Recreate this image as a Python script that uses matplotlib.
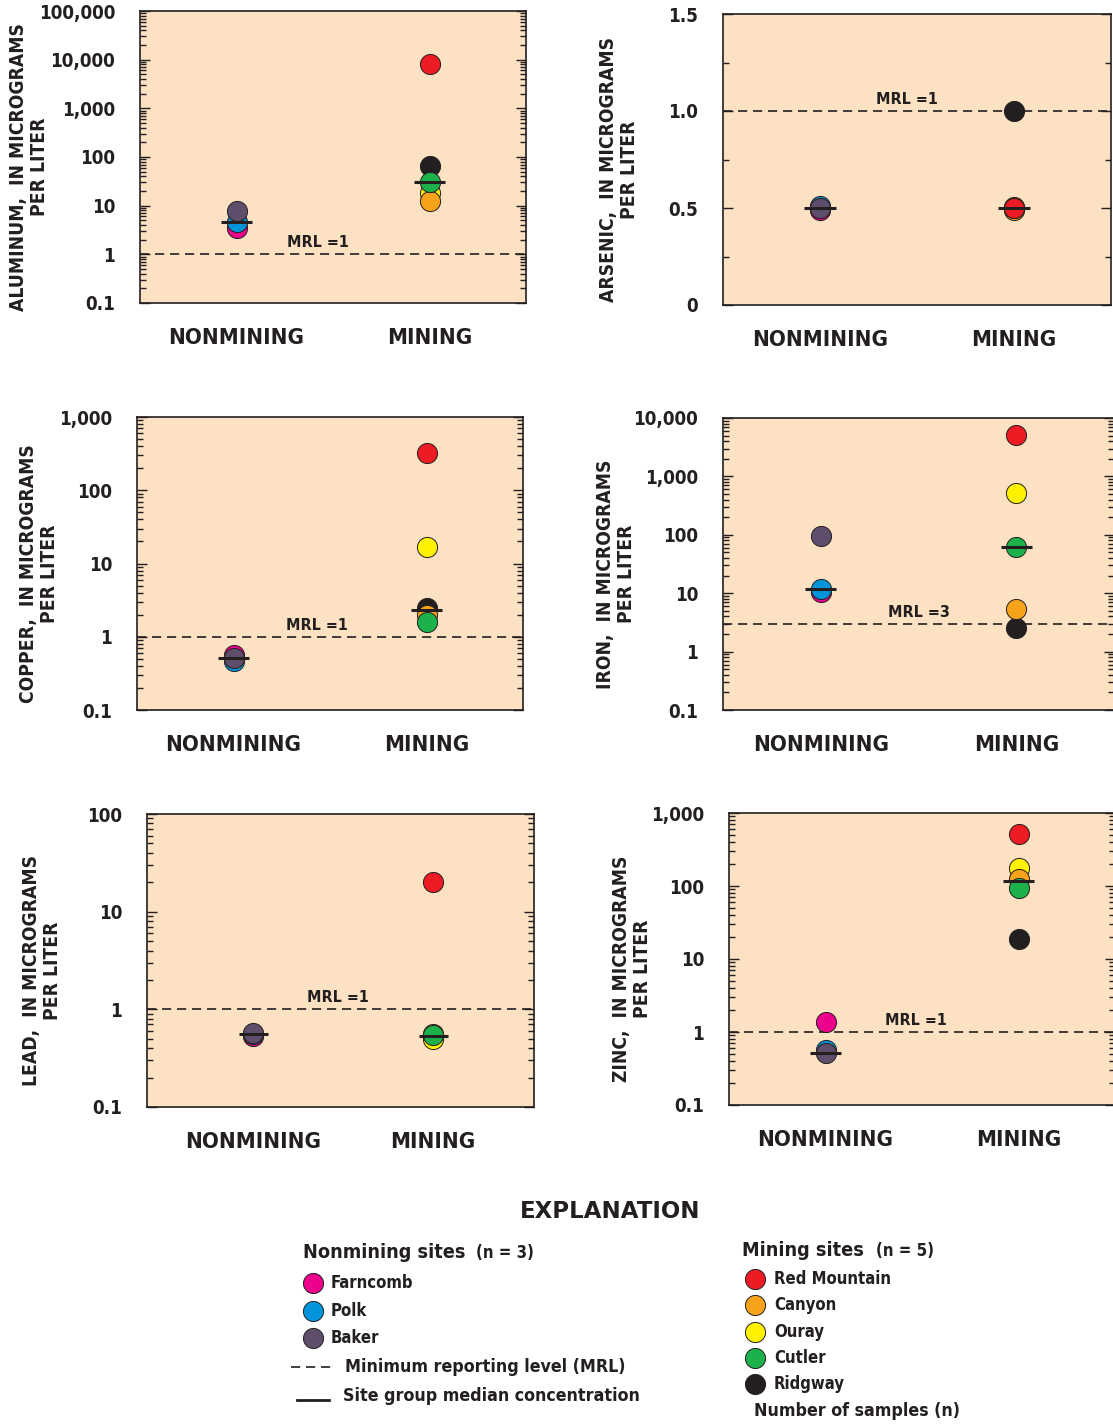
import matplotlib
matplotlib.use("Agg")
import matplotlib.pyplot as plt
from matplotlib.ticker import LogLocator, FuncFormatter, MultipleLocator, NullFormatter

plt.rcParams['font.family'] = ['DejaVu Sans']
plt.rcParams['font.stretch'] = 'condensed'
plt.rcParams['font.weight'] = 'bold'

W, H = 1113, 1426

categories = ['NONMINING', 'MINING']
nonmining_sites = ['Farncomb', 'Polk', 'Baker']
mining_sites = ['Red Mountain', 'Canyon', 'Ouray', 'Cutler', 'Ridgway']
nonmining_colors = ['#EC008C', '#0095DA', '#5F4E6B']
mining_colors = ['#ED1C24', '#F7A21B', '#FFF200', '#1DB14B', '#231F20']

# concentrations, micrograms per liter, same order as the site lists
aluminum_nonmining = [3.5, 4.6, 7.8]
aluminum_mining = [8100, 12.6, 18, 31, 65]
aluminum_median = [4.6, 31]
aluminum_mrl = 1

arsenic_nonmining = [0.49, 0.51, 0.5]
arsenic_mining = [0.5, 0.49, 0.505, 0.5, 1.0]
arsenic_median = [0.5, 0.5]
arsenic_mrl = 1

copper_nonmining = [0.57, 0.46, 0.52]
copper_mining = [323, 2.0, 16.8, 1.58, 2.5]
copper_median = [0.52, 2.3]
copper_mrl = 1

iron_nonmining = [10.5, 12, 95]
iron_mining = [5100, 5.4, 520, 62, 2.5]
iron_median = [12, 62]
iron_mrl = 3

lead_nonmining = [0.53, 0.56, 0.57]
lead_mining = [20, 0.56, 0.5, 0.55, 0.52]
lead_median = [0.56, 0.53]
lead_mrl = 1

zinc_nonmining = [1.37, 0.56, 0.52]
zinc_mining = [515, 125, 176, 94, 18.7]
zinc_median = [0.52, 117]
zinc_mrl = 1

bg = '#FCE1C2'
ink = '#231F20'
mining_order = [4, 2, 1, 3, 0]   # back to front

fig = plt.figure(figsize=(W / 100, H / 100), dpi=100)
over = fig.add_axes([0, 0, 1, 1])
over.set_xlim(0, W)
over.set_ylim(H, 0)
over.axis('off')


def log_fmt(v, pos):
    return '0.1' if v < 1 else f'{int(round(v)):,}'


def panel(box, ylabel, nonm, mine, med, mrl, ylim, log, xlim, mrl_x, lab_x):
    l, r, t, b = box
    ax = fig.add_axes([l / W, 1 - b / H, (r - l) / W, (b - t) / H])
    ax.set_facecolor(bg)
    for k in range(3):
        ax.scatter(1, nonm[k], s=210, color=nonmining_colors[k], edgecolor=ink,
                   linewidth=0.7, zorder=3 + k, clip_on=False)
    for j, k in enumerate(mining_order):
        ax.scatter(2, mine[k], s=210, color=mining_colors[k], edgecolor=ink,
                   linewidth=0.7, zorder=3 + j, clip_on=False)
    ax.hlines(med, [0.92, 1.92], [1.08, 2.08], color=ink, lw=2.2, zorder=10)
    ax.axhline(mrl, color=ink, lw=1.2, ls=(0, (5.5, 3.5)), zorder=2)
    ax.annotate(f'MRL ={mrl}', (mrl_x, mrl), xytext=(0, 3), textcoords='offset points',
                ha='center', va='bottom', fontsize=11.5, color=ink)
    if log:
        ax.set_yscale('log')
        ax.yaxis.set_major_locator(LogLocator(base=10, numticks=12))
        ax.yaxis.set_minor_locator(LogLocator(base=10, subs=range(2, 10), numticks=12))
        ax.yaxis.set_major_formatter(FuncFormatter(log_fmt))
        ax.yaxis.set_minor_formatter(NullFormatter())
    else:
        ax.yaxis.set_major_locator(MultipleLocator(0.5))
        ax.yaxis.set_minor_locator(MultipleLocator(0.25))
        ax.yaxis.set_major_formatter(FuncFormatter(lambda v, p: '0' if v == 0 else f'{v:.1f}'))
    ax.set_ylim(*ylim)
    ax.set_xlim(*xlim)
    ax.set_xticks([1, 2])
    ax.set_xticklabels(categories)
    ax.tick_params(axis='x', length=0, pad=18, labelsize=16, colors=ink)
    ax.tick_params(axis='y', which='both', direction='in', left=True, right=True,
                   labelsize=13.5, pad=18, colors=ink, width=1)
    ax.tick_params(axis='y', which='major', length=7)
    ax.tick_params(axis='y', which='minor', length=4)
    for s in ax.spines.values():
        s.set_linewidth(1.2)
        s.set_color(ink)
    fig.text(lab_x / W, 1 - ((t + b) / 2 + 10) / H, ylabel, rotation=90, ha='left',
             va='center', multialignment='center', fontsize=13.8, color=ink,
             linespacing=1.15)
    return ax


panel((140, 526, 11, 303), 'ALUMINUM,  IN MICROGRAMS\nPER LITER', aluminum_nonmining,
      aluminum_mining, aluminum_median, aluminum_mrl, (0.1, 1e5), True, (0.5, 2.5), 1.42, 9)
panel((723, 1111, 14, 305), 'ARSENIC,  IN MICROGRAMS\nPER LITER', arsenic_nonmining,
      arsenic_mining, arsenic_median, arsenic_mrl, (0, 1.5), False, (0.5, 2.5), 1.45, 599)
panel((137, 523, 417, 710), 'COPPER,  IN MICROGRAMS\nPER LITER', copper_nonmining,
      copper_mining, copper_median, copper_mrl, (0.1, 1e3), True, (0.5, 2.5), 1.43, 19)
panel((723, 1114, 418, 710), 'IRON,  IN MICROGRAMS\nPER LITER', iron_nonmining,
      iron_mining, iron_median, iron_mrl, (0.1, 1e4), True, (0.5, 2.5), 1.5, 596)
panel((147, 534, 814, 1107), 'LEAD,  IN MICROGRAMS\nPER LITER', lead_nonmining,
      lead_mining, lead_median, lead_mrl, (0.1, 100), True, (0.41, 2.56), 1.47, 22)
panel((729, 1115, 813, 1105), 'ZINC,  IN MICROGRAMS\nPER LITER', zinc_nonmining,
      zinc_mining, zinc_median, zinc_mrl, (0.1, 1e3), True, (0.5, 2.5), 1.47, 612)

# explanation
over.text(610, 1212, 'EXPLANATION', ha='center', va='center', fontsize=16.5,
          fontstretch='normal', color=ink)
over.text(303, 1253, 'Nonmining sites', ha='left', va='center', fontsize=14.2, color=ink)
over.text(476, 1253, '(n = 3)', ha='left', va='center', fontsize=12, color=ink)
for k, (name, c) in enumerate(zip(nonmining_sites, nonmining_colors)):
    y = 1283 + k * 27.5
    over.scatter(313, y, s=210, color=c, edgecolor=ink, linewidth=0.7)
    over.text(331, y, name, ha='left', va='center', fontsize=12, color=ink)
over.plot([291, 332], [1367, 1367], color=ink, lw=1.2, ls=(0, (5.5, 3.5)))
over.text(345, 1367, 'Minimum reporting level (MRL)', ha='left', va='center',
          fontsize=12.8, color=ink)
over.plot([297, 329], [1400, 1400], color=ink, lw=2)
over.text(343, 1396, 'Site group median concentration', ha='left', va='center',
          fontsize=12.8, color=ink)

over.text(742, 1251, 'Mining sites', ha='left', va='center', fontsize=14.2, color=ink)
over.text(876, 1251, '(n = 5)', ha='left', va='center', fontsize=12, color=ink)
for k, (name, c) in enumerate(zip(mining_sites, mining_colors)):
    y = 1279 + k * 26.3
    over.scatter(755, y, s=210, color=c, edgecolor=ink, linewidth=0.7)
    over.text(774, y, name, ha='left', va='center', fontsize=12, color=ink)
over.text(754, 1411, 'Number of samples (n)', ha='left', va='center', fontsize=12.8, color=ink)

fig.savefig('out.png', dpi=100)
